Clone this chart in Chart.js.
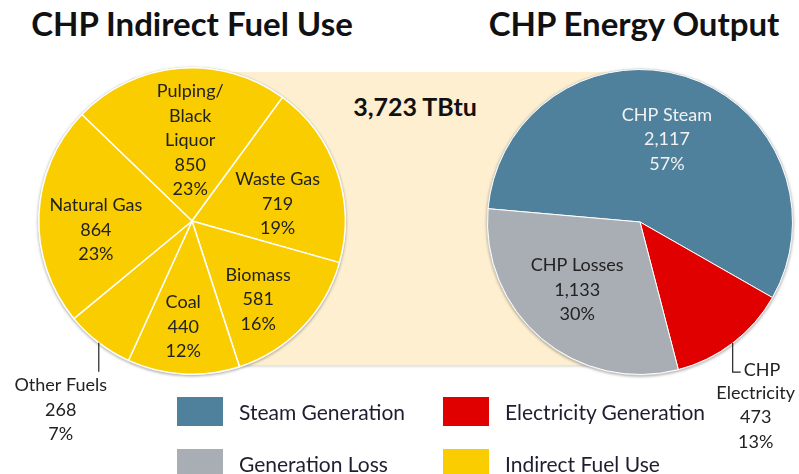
<!DOCTYPE html>
<html>
<head>
<meta charset="utf-8">
<script src="https://cdn.jsdelivr.net/npm/chart.js@4.4.1/dist/chart.umd.min.js"></script>
<style>
    body { margin: 0; background: #fff; font-family: Lato, "Noto Sans", sans-serif; color: #222; }
    #wrap { position: relative; width: 799px; height: 474px; overflow: hidden; }
    .title { position: absolute; top: 3px; font-weight: bold; font-size: 33px; line-height: 40px; color: #111; text-align: center; white-space: nowrap; }
    #band { position: absolute; left: 230px; top: 72px; width: 420px; height: 293px; background: #fdefd0; box-shadow: 0 2px 2px rgba(0,0,0,0.12); }
    #total { position: absolute; left: 315px; width: 200px; top: 91px; text-align: center; font-weight: bold; font-size: 25px; line-height: 30px; color: #111; }
    canvas { position: absolute; left: 0; top: 0; }
    .leg { position: absolute; font-size: 21px; line-height: 25px; white-space: nowrap; color: #1e1e30; }
    .leg span { position: absolute; left: 0; top: 0; width: 46px; height: 29px; }
    .leg div { position: absolute; left: 62px; top: 2px; }
</style>
</head>
<body>
<div id="wrap">
    <div id="band"></div>
    <div class="title" style="left:2px;width:380px;">CHP Indirect Fuel Use</div>
    <div class="title" style="left:464px;width:340px;">CHP Energy Output</div>
    <div id="total">3,723 TBtu</div>
    <canvas id="fuel-chart" width="799" height="474"></canvas>
    <canvas id="output-chart" width="799" height="474"></canvas>
    <div id="legend"></div>
</div>
<script>

const fuelCategories = [['Pulping/', 'Black', 'Liquor'], ['Waste Gas'], ['Biomass'], ['Coal'], ['Other Fuels'], ['Natural Gas']]
const fuelValues = [850, 719, 581, 440, 268, 864]

const outputCategories = [['CHP Steam'], ['CHP', 'Electricity'], ['CHP Losses']]
const outputValues = [2117, 473, 1133]

const legendLabels = ['Steam Generation', 'Electricity Generation', 'Generation Loss', 'Indirect Fuel Use']

const YELLOW = '#f9cd00'
const BLUE = '#4f819c'
const RED = '#e00000'
const GREY = '#a8aeb3'


// draws the value labels on / beside the slices
const sliceLabels = {
    id: 'sliceLabels',
    beforeDatasetsDraw(chart) {
        const arc = chart.getDatasetMeta(0).data[0]
        if (!arc) return
        const { x, y, outerRadius } = arc.getProps(['x', 'y', 'outerRadius'], true)
        const ctx = chart.ctx
        ctx.save()
        ctx.shadowColor = 'rgba(0,0,0,0.35)'
        ctx.shadowBlur = 3
        ctx.shadowOffsetY = 1
        ctx.fillStyle = '#d8d8d8'
        ctx.beginPath()
        ctx.arc(x, y, outerRadius + 1, 0, Math.PI * 2)
        ctx.fill()
        ctx.restore()
    },
    afterDatasetsDraw(chart, args, opts) {
        const ctx = chart.ctx
        const ds = chart.data.datasets[0]
        const total = ds.data.reduce((a, b) => a + b, 0)
        const lh = opts.lineHeight
        ctx.save()
        ctx.font = opts.font
        ctx.textBaseline = 'middle'
        ctx.textAlign = 'center'

        chart.getDatasetMeta(0).data.forEach((arc, i) => {
            const p = arc.getProps(['x', 'y', 'startAngle', 'endAngle', 'outerRadius'], true)
            const mid = (p.startAngle + p.endAngle) / 2
            const cat = chart.data.labels[i]
            const lines = cat.concat([ds.data[i].toLocaleString('en-US'), Math.round(ds.data[i] / total * 100) + '%'])
            ctx.fillStyle = opts.colors[i] || '#222'

            if (opts.outside && opts.outside.index === i) {
                const o = opts.outside
                const ex = p.x + Math.cos(mid) * p.outerRadius
                const ey = p.y + Math.sin(mid) * p.outerRadius
                ctx.strokeStyle = '#222'
                ctx.lineWidth = 1.2
                ctx.beginPath()
                ctx.moveTo(ex, ey)
                ctx.lineTo(ex, ey + o.drop)
                if (o.elbow) ctx.lineTo(ex + o.elbow, ey + o.drop)
                ctx.stroke()
                ctx.fillStyle = '#222'
                let ty = ey + o.drop + o.textDy
                lines.forEach((t, k) => {
                    if (k === 0 && o.firstLeft) {
                        ctx.textAlign = 'left'
                        ctx.fillText(t, ex + o.elbow + 3, ey + o.drop - 2)
                        ctx.textAlign = 'center'
                        return
                    }
                    ctx.fillText(t, ex + o.dx, ty)
                    ty += lh
                })
                return
            }

            const f = opts.radius[i]
            const a = mid + (opts.shift[i] || 0) * Math.PI / 180
            const cx = p.x + Math.cos(a) * p.outerRadius * f
            const cy = p.y + Math.sin(a) * p.outerRadius * f
            let ty = cy - (lines.length - 1) * lh / 2
            lines.forEach(t => {
                ctx.fillText(t, cx, ty)
                ty += lh
            })
        })
        ctx.restore()
    }
}

function setupPie(canvas, labels, values, colors, rotation, padding, borderWidth, labelOpts) {
    return new Chart(canvas, {
        type: 'pie',
        data: {
            labels: labels,
            datasets: [{
                data: values,
                backgroundColor: colors,
                borderColor: '#ffffff',
                borderWidth: borderWidth
            }]
        },
        options: {
            responsive: false,
            animation: false,
            rotation: rotation,
            layout: { padding: padding },
            events: [],
            plugins: {
                legend: { display: false },
                tooltip: { enabled: false },
                sliceLabels: labelOpts
            }
        },
        plugins: [sliceLabels]
    })
}

document.addEventListener("DOMContentLoaded", function () {

    setupPie(document.getElementById('fuel-chart'), fuelCategories, fuelValues,
        [YELLOW, YELLOW, YELLOW, YELLOW, YELLOW, YELLOW], -46,
        { left: 38, top: 67, right: 453, bottom: 99 }, 1.5,
        {
            font: '18px Lato, "Noto Sans", sans-serif',
            lineHeight: 24.5,
            radius: [0.526, 0.57, 0.67, 0.695, 0, 0.63],
            shift: [3.6, 7.6, 6, 1.5, 0, -7.5],
            colors: [],
            outside: { index: 4, drop: 29, elbow: 0, dx: -38, textDy: 14 }
        })

    setupPie(document.getElementById('output-chart'), outputCategories, outputValues,
        [BLUE, RED, GREY], -85,
        { left: 487, top: 69, right: 6, bottom: 99 }, 1,
        {
            font: '18px Lato, "Noto Sans", sans-serif',
            lineHeight: 24.5,
            radius: [0.57, 0, 0.606],
            shift: [0.7, 0, 2.6],
            colors: ['#f2f2f2', '#222', '#222'],
            outside: { index: 1, drop: 29, elbow: 8, dx: 23, textDy: 21, firstLeft: true }
        })

    // two by two legend under the charts
    const legendColors = [BLUE, RED, GREY, YELLOW]
    const legendPos = [[177, 397], [443, 397], [177, 449], [443, 449]]
    const legend = document.getElementById('legend')
    legendLabels.forEach((name, i) => {
        const item = document.createElement('div')
        item.className = 'leg'
        item.style.left = legendPos[i][0] + 'px'
        item.style.top = legendPos[i][1] + 'px'
        item.innerHTML = '<span style="background:' + legendColors[i] + '"></span><div>' + name + '</div>'
        legend.appendChild(item)
    })

});
</script>
</body>
</html>
